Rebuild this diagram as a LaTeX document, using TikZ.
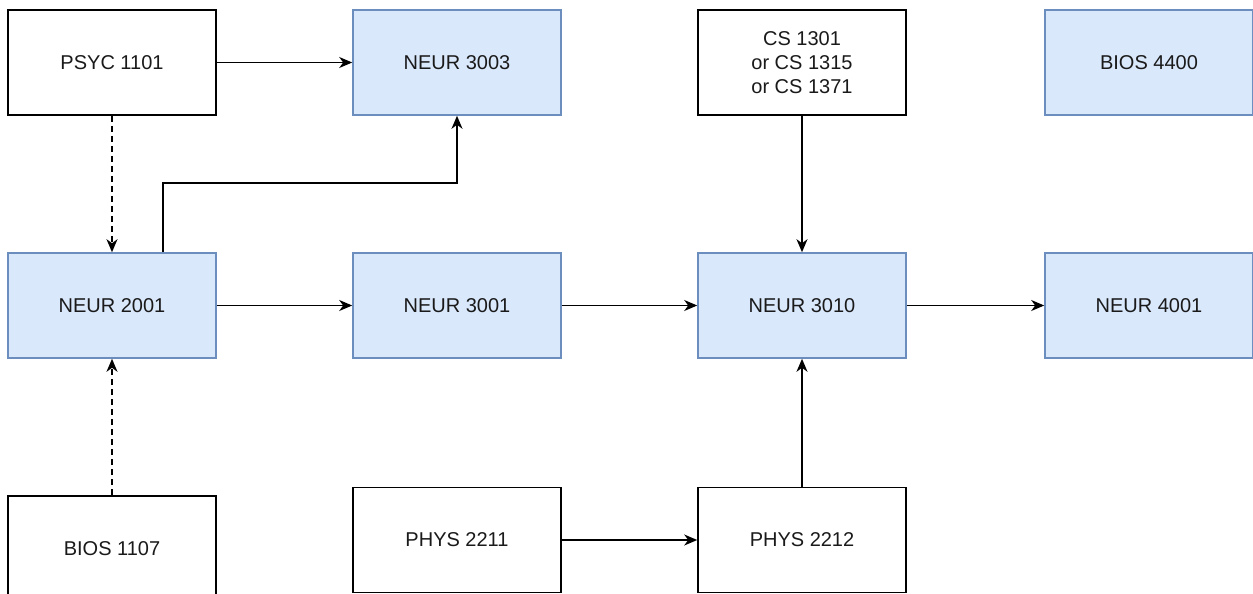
\documentclass[tikz,border=0pt]{standalone}
\usepackage{fontspec}
\setmainfont{Liberation Sans}
\usetikzlibrary{arrows.meta}
\definecolor{bluefill}{HTML}{DAE8FC}
\definecolor{blueline}{HTML}{6C8EBF}
\definecolor{txt}{HTML}{1A1A1A}
\begin{document}
\begin{tikzpicture}[x=1pt,y=-1pt, font=\fontsize{20}{24}\selectfont,
  course/.style={draw=black, fill=white, line width=1.6pt, minimum width=208pt, minimum height=105pt, inner sep=0pt, align=center, text=txt},
  core/.style={course, draw=blueline, fill=bluefill},
  link/.style={line width=1.6pt, -{Stealth[length=13pt,width=11pt,inset=4pt]}},
  optional/.style={link, dash pattern=on 6pt off 4pt}]
\useasboundingbox (0,0) rectangle (1253,594);
\clip (0,0) rectangle (1253,594);
\node[course] (psyc) at (112,62.5) {PSYC 1101};
\node[core] (n3003) at (457,62.5) {NEUR 3003};
\node[course] (cs) at (802,62.5) {CS 1301\\or CS 1315\\or CS 1371};
\node[core] (b4400) at (1149,62.5) {BIOS 4400};
\node[core] (n2001) at (112,305.5) {NEUR 2001};
\node[core] (n3001) at (457,305.5) {NEUR 3001};
\node[core] (n3010) at (802,305.5) {NEUR 3010};
\node[core] (n4001) at (1149,305.5) {NEUR 4001};
\node[course] (bios) at (112,548.5) {BIOS 1107};
\node[course] (p2211) at (457,540) {PHYS 2211};
\node[course] (p2212) at (802,540) {PHYS 2212};
\coordinate (bend) at (0,183);
\draw[optional] (psyc) -- (n2001);
\draw[optional] (bios) -- (n2001);
\draw[link] (psyc) -- (n3003);
\draw[link] ([xshift=51pt]n2001.north) |- (bend -| n3003.south) -- (n3003.south);
\draw[link] (n2001) -- (n3001);
\draw[link] (n3001) -- (n3010);
\draw[link] (n3010) -- (n4001);
\draw[link] (cs) -- (n3010);
\draw[link] (p2212) -- (n3010);
\draw[link] (p2211) -- (p2212);
\end{tikzpicture}
\end{document}
